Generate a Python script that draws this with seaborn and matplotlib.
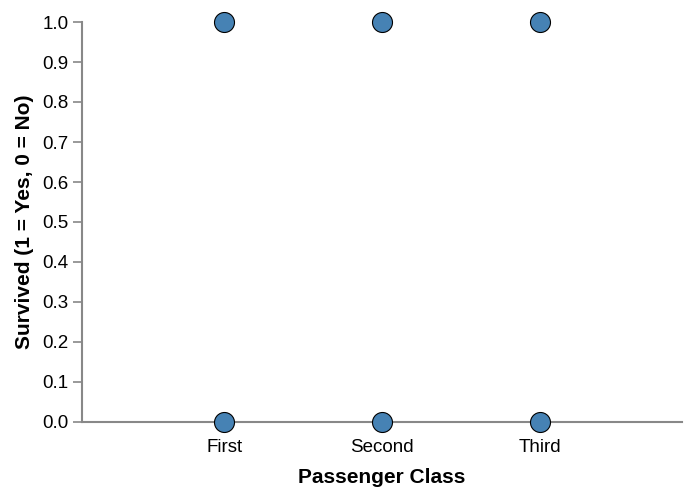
import matplotlib
matplotlib.use("Agg")
import matplotlib.pyplot as plt
import pandas as pd
import seaborn as sns

# ── Data ──────────────────────────────────────────────────────────────────────
CLASS_ORDER = ["First", "Second", "Third"]
pclass = ["First", "First", "Second", "Second", "Third", "Third"]
survived = [1, 0, 1, 0, 1, 0]
y_ticks = [0.0, 0.1, 0.2, 0.3, 0.4, 0.5, 0.6, 0.7, 0.8, 0.9, 1.0]

df = pd.DataFrame({"pclass": pclass, "survived": survived})

POINT_COLOR = "#4682b4"
AXIS_GREY = "#888888"
TEXT = "#000000"

sns.set_theme(style="white")
plt.rcParams["font.family"] = ["Liberation Sans", "DejaVu Sans"]

fig = plt.figure(figsize=(6.92, 4.96), dpi=100)
ax = fig.add_axes([82 / 692, 74 / 496, 600 / 692, 400 / 496])

sns.stripplot(
    data=df, x="pclass", y="survived", order=CLASS_ORDER,
    jitter=False, size=14.4, color=POINT_COLOR,
    edgecolor="black", linewidth=0.8, ax=ax, clip_on=False, zorder=3,
)

ax.set_xlim(-0.9, 2.9)
ax.set_ylim(0, 1)
ax.set_yticks(y_ticks)
ax.set_yticklabels([f"{v:.1f}" for v in y_ticks])

for side in ["top", "right"]:
    ax.spines[side].set_visible(False)
for side in ["left", "bottom"]:
    ax.spines[side].set_color(AXIS_GREY)
    ax.spines[side].set_linewidth(1.5)

ax.tick_params(axis="y", which="major", left=True, length=6.5, width=1.2,
               color=AXIS_GREY, labelsize=13.5, labelcolor=TEXT, pad=3)
ax.tick_params(axis="x", which="major", bottom=False, labelsize=13.5,
               labelcolor=TEXT, pad=6)

ax.set_xlabel("Passenger Class", fontsize=15, fontweight="bold", color=TEXT, labelpad=9)
ax.set_ylabel("Survived (1 = Yes, 0 = No)", fontsize=15, fontweight="bold",
              color=TEXT, labelpad=6)
ax.grid(False)

fig.savefig("out.png", dpi=100)
